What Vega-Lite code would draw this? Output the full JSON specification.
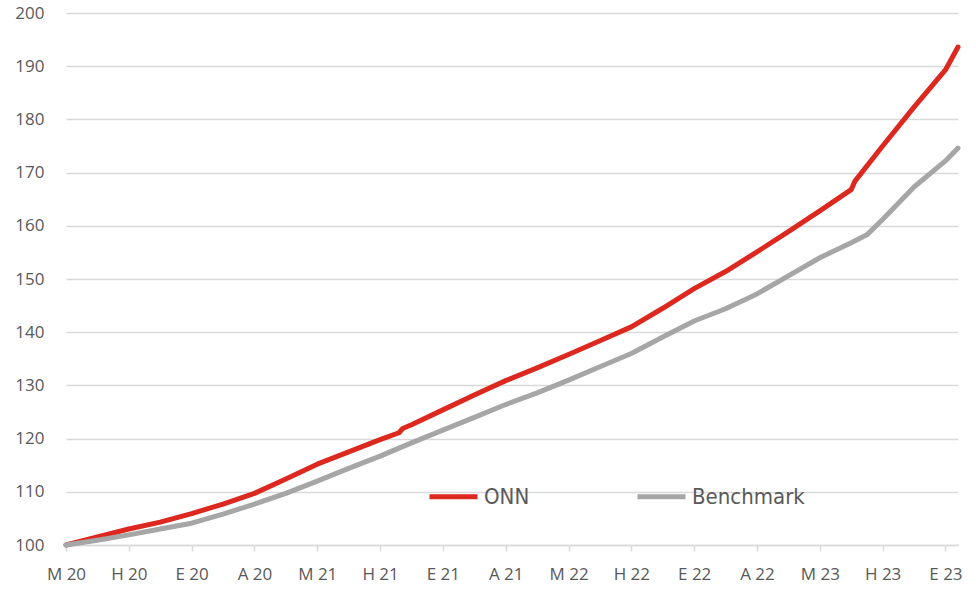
{
  "$schema": "https://vega.github.io/schema/vega-lite/v6.json",
  "autosize": {"type": "none"},
  "padding": {"left": 66, "top": 13, "right": 18, "bottom": 46},
  "width": 892,
  "height": 532,
  "background": "white",
  "config": {
    "view": {"stroke": null},
    "font": "Open Sans"
  },
  "data": {
    "values": [
      {"t": 0, "series": "ONN", "v": 100},
      {"t": 0.5, "series": "ONN", "v": 101.5},
      {"t": 1, "series": "ONN", "v": 103.0},
      {"t": 1.5, "series": "ONN", "v": 104.3},
      {"t": 2, "series": "ONN", "v": 105.9},
      {"t": 2.5, "series": "ONN", "v": 107.7},
      {"t": 3, "series": "ONN", "v": 109.7},
      {"t": 3.5, "series": "ONN", "v": 112.4},
      {"t": 4, "series": "ONN", "v": 115.2},
      {"t": 4.5, "series": "ONN", "v": 117.5},
      {"t": 5, "series": "ONN", "v": 119.8},
      {"t": 5.3, "series": "ONN", "v": 121.1},
      {"t": 5.36, "series": "ONN", "v": 121.9},
      {"t": 5.5, "series": "ONN", "v": 122.6},
      {"t": 6, "series": "ONN", "v": 125.4},
      {"t": 6.5, "series": "ONN", "v": 128.2},
      {"t": 7, "series": "ONN", "v": 130.9},
      {"t": 7.5, "series": "ONN", "v": 133.3},
      {"t": 8, "series": "ONN", "v": 135.8},
      {"t": 8.5, "series": "ONN", "v": 138.4},
      {"t": 9, "series": "ONN", "v": 141.0},
      {"t": 9.5, "series": "ONN", "v": 144.5},
      {"t": 10, "series": "ONN", "v": 148.2},
      {"t": 10.5, "series": "ONN", "v": 151.4},
      {"t": 11, "series": "ONN", "v": 155.1},
      {"t": 11.5, "series": "ONN", "v": 158.9},
      {"t": 12, "series": "ONN", "v": 162.8},
      {"t": 12.3, "series": "ONN", "v": 165.2},
      {"t": 12.5, "series": "ONN", "v": 166.8},
      {"t": 12.56, "series": "ONN", "v": 168.4},
      {"t": 13, "series": "ONN", "v": 175.0},
      {"t": 13.5, "series": "ONN", "v": 182.3},
      {"t": 14, "series": "ONN", "v": 189.3},
      {"t": 14.2, "series": "ONN", "v": 193.6},
      {"t": 0, "series": "Benchmark", "v": 100},
      {"t": 0.5, "series": "Benchmark", "v": 100.9},
      {"t": 1, "series": "Benchmark", "v": 101.9},
      {"t": 1.5, "series": "Benchmark", "v": 103.0},
      {"t": 2, "series": "Benchmark", "v": 104.1},
      {"t": 2.5, "series": "Benchmark", "v": 105.8},
      {"t": 3, "series": "Benchmark", "v": 107.7},
      {"t": 3.5, "series": "Benchmark", "v": 109.7},
      {"t": 4, "series": "Benchmark", "v": 112.0},
      {"t": 4.5, "series": "Benchmark", "v": 114.4},
      {"t": 5, "series": "Benchmark", "v": 116.7},
      {"t": 5.5, "series": "Benchmark", "v": 119.2},
      {"t": 6, "series": "Benchmark", "v": 121.6},
      {"t": 6.5, "series": "Benchmark", "v": 124.0},
      {"t": 7, "series": "Benchmark", "v": 126.4},
      {"t": 7.5, "series": "Benchmark", "v": 128.6},
      {"t": 8, "series": "Benchmark", "v": 131.0},
      {"t": 8.5, "series": "Benchmark", "v": 133.5},
      {"t": 9, "series": "Benchmark", "v": 136.0},
      {"t": 9.5, "series": "Benchmark", "v": 139.1},
      {"t": 10, "series": "Benchmark", "v": 142.1},
      {"t": 10.5, "series": "Benchmark", "v": 144.4},
      {"t": 11, "series": "Benchmark", "v": 147.2},
      {"t": 11.5, "series": "Benchmark", "v": 150.6},
      {"t": 12, "series": "Benchmark", "v": 154.0},
      {"t": 12.5, "series": "Benchmark", "v": 156.8},
      {"t": 12.75, "series": "Benchmark", "v": 158.3},
      {"t": 13, "series": "Benchmark", "v": 161.2},
      {"t": 13.5, "series": "Benchmark", "v": 167.3},
      {"t": 14, "series": "Benchmark", "v": 172.2},
      {"t": 14.2, "series": "Benchmark", "v": 174.6}
    ]
  },
  "mark": {"type": "line", "strokeWidth": 5, "strokeCap": "round", "strokeJoin": "round"},
  "encoding": {
    "x": {
      "field": "t",
      "type": "quantitative",
      "scale": {"domain": [0, 14.2], "nice": false, "zero": false},
      "axis": {
        "title": null,
        "values": [0, 1, 2, 3, 4, 5, 6, 7, 8, 9, 10, 11, 12, 13, 14],
        "labelExpr": "['M 20','H 20','E 20','A 20','M 21','H 21','E 21','A 21','M 22','H 22','E 22','A 22','M 23','H 23','E 23'][datum.value]",
        "grid": false,
        "domainColor": "#d9d9d9",
        "domainWidth": 1.5,
        "tickColor": "#d9d9d9",
        "tickWidth": 1.5,
        "tickSize": 6,
        "labelFontSize": 17,
        "labelColor": "#595959",
        "labelPadding": 15,
        "labelFlush": false,
        "labelOverlap": false
      }
    },
    "y": {
      "field": "v",
      "type": "quantitative",
      "scale": {"domain": [100, 200], "nice": false, "zero": false},
      "axis": {
        "title": null,
        "values": [100, 110, 120, 130, 140, 150, 160, 170, 180, 190, 200],
        "domain": false,
        "ticks": false,
        "tickSize": 0,
        "gridColor": "#d9d9d9",
        "gridWidth": 1.5,
        "labelFontSize": 17,
        "labelColor": "#595959",
        "labelPadding": 22
      }
    },
    "color": {
      "field": "series",
      "type": "nominal",
      "sort": ["ONN", "Benchmark"],
      "scale": {"domain": ["ONN", "Benchmark"], "range": ["#dc281e", "#a6a6a6"]},
      "legend": {
        "title": null,
        "orient": "none",
        "direction": "horizontal",
        "legendX": 361,
        "legendY": 457,
        "symbolType": "stroke",
        "symbolSize": 2304,
        "symbolStrokeWidth": 5,
        "labelFontSize": 22,
        "labelFont": "DejaVu Sans Condensed, Roboto, sans-serif",
        "labelColor": "#595959",
        "labelOffset": 4,
        "columnPadding": 97
      }
    }
  }
}
